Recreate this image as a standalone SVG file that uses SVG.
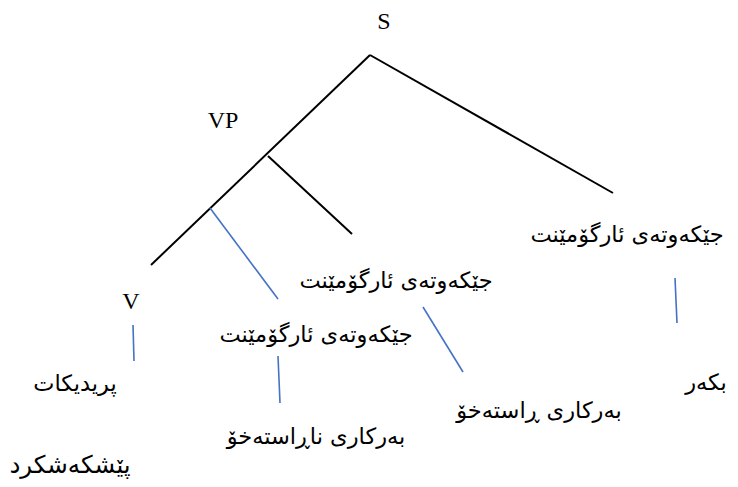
<svg xmlns="http://www.w3.org/2000/svg" width="738" height="487" viewBox="0 0 738 487">
<style>
.lat{font-family:"Liberation Serif","Times New Roman",serif;font-size:24px;fill:#000}
.ar{font-family:"DejaVu Sans","Noto Sans",sans-serif;font-size:22.5px;fill:#000}
.blk{stroke:#000;stroke-width:2;fill:none}
.blu{stroke:#4472C4;stroke-width:1.6;fill:none}
</style>
<rect width="738" height="487" fill="#fff"/>
<g id="connectors">
<line class="blk" x1="370" y1="55" x2="613" y2="193"/>
<line class="blk" x1="370" y1="55" x2="151" y2="265"/>
<line class="blk" x1="268" y1="156" x2="352" y2="234"/>
<line class="blu" x1="210" y1="208" x2="278" y2="299"/>
<line class="blu" x1="133" y1="325" x2="134" y2="361"/>
<line class="blu" x1="278" y1="356" x2="280" y2="403"/>
<line class="blu" x1="423" y1="307" x2="463" y2="372"/>
<line class="blu" x1="675" y1="278" x2="677" y2="323"/>
</g>
<g id="S"><text class="lat" x="384" y="29" text-anchor="middle">S</text></g>
<g id="VP"><text class="lat" x="223" y="128" text-anchor="middle">VP</text></g>
<g id="V"><text class="lat" x="131" y="309" text-anchor="middle">V</text></g>
<g id="arg1"><text class="ar" x="627" y="242" text-anchor="middle" direction="rtl">جێکەوتەی ئارگۆمێنت</text></g>
<g id="arg2"><text class="ar" x="396" y="288" text-anchor="middle" direction="rtl">جێکەوتەی ئارگۆمێنت</text></g>
<g id="arg3"><text class="ar" x="316" y="342" text-anchor="middle" direction="rtl">جێکەوتەی ئارگۆمێنت</text></g>
<g id="predicate"><text class="ar" x="75" y="391" text-anchor="middle" direction="rtl">پریدیکات</text></g>
<g id="subject"><text class="ar" x="706" y="390" text-anchor="middle" direction="rtl">بکەر</text></g>
<g id="directObject"><text class="ar" x="539" y="418" text-anchor="middle" direction="rtl">بەرکاری ڕاستەخۆ</text></g>
<g id="indirectObject"><text class="ar" x="316" y="444" text-anchor="middle" direction="rtl">بەرکاری ناڕاستەخۆ</text></g>
<g id="verb"><text class="ar" x="70" y="473" text-anchor="middle" direction="rtl" style="font-size:24.5px">پێشکەشکرد</text></g>
</svg>
